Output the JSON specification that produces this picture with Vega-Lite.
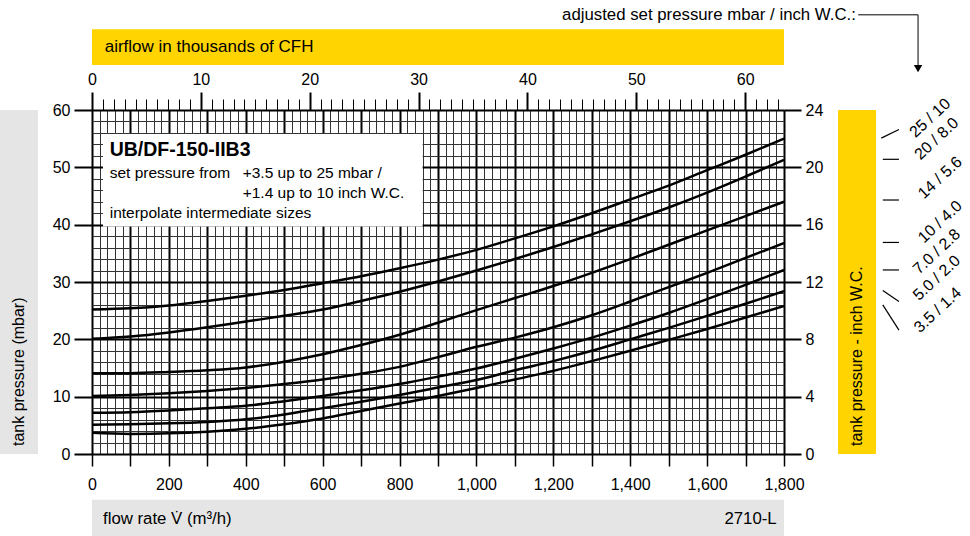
{
"$schema": "https://vega.github.io/schema/vega-lite/v6.json",
"width": 692, "height": 344,
"autosize": "none",
"padding": {"left": 92, "top": 110, "right": 186, "bottom": 82},
"background": "white",
"config": {"font": "Liberation Sans", "view": {"stroke": null},
  "axis": {"labelFont": "Liberation Sans", "labelFontSize": 16, "labelColor": "black", "tickColor": "black", "domain": false, "labelOverlap": false, "labelBound": false, "labelFlush": false}},
"datasets": {"curves": [
{"c":"25","f":0,"p":25.2},{"c":"25","f":100,"p":25.4},{"c":"25","f":200,"p":25.9},{"c":"25","f":300,"p":26.7},{"c":"25","f":400,"p":27.6},{"c":"25","f":500,"p":28.6},{"c":"25","f":600,"p":29.8},{"c":"25","f":700,"p":31.0},{"c":"25","f":800,"p":32.4},{"c":"25","f":900,"p":33.9},{"c":"25","f":1000,"p":35.6},{"c":"25","f":1100,"p":37.6},{"c":"25","f":1200,"p":39.7},{"c":"25","f":1300,"p":42.0},{"c":"25","f":1400,"p":44.4},{"c":"25","f":1500,"p":46.8},{"c":"25","f":1600,"p":49.5},{"c":"25","f":1700,"p":52.2},{"c":"25","f":1800,"p":55.0},
{"c":"20","f":0,"p":20.1},{"c":"20","f":100,"p":20.5},{"c":"20","f":200,"p":21.2},{"c":"20","f":300,"p":22.1},{"c":"20","f":400,"p":23.1},{"c":"20","f":500,"p":24.1},{"c":"20","f":600,"p":25.2},{"c":"20","f":700,"p":26.7},{"c":"20","f":800,"p":28.3},{"c":"20","f":900,"p":30.1},{"c":"20","f":1000,"p":32.0},{"c":"20","f":1100,"p":34.0},{"c":"20","f":1200,"p":36.1},{"c":"20","f":1300,"p":38.3},{"c":"20","f":1400,"p":40.6},{"c":"20","f":1500,"p":43.0},{"c":"20","f":1600,"p":45.6},{"c":"20","f":1700,"p":48.4},{"c":"20","f":1800,"p":51.3},
{"c":"14","f":0,"p":14.1},{"c":"14","f":100,"p":14.1},{"c":"14","f":200,"p":14.3},{"c":"14","f":300,"p":14.6},{"c":"14","f":400,"p":15.1},{"c":"14","f":500,"p":16.1},{"c":"14","f":600,"p":17.4},{"c":"14","f":700,"p":19.0},{"c":"14","f":800,"p":20.8},{"c":"14","f":900,"p":22.9},{"c":"14","f":1000,"p":25.1},{"c":"14","f":1100,"p":27.2},{"c":"14","f":1200,"p":29.3},{"c":"14","f":1300,"p":31.6},{"c":"14","f":1400,"p":34.0},{"c":"14","f":1500,"p":36.5},{"c":"14","f":1600,"p":39.0},{"c":"14","f":1700,"p":41.5},{"c":"14","f":1800,"p":44.0},
{"c":"10","f":0,"p":10.1},{"c":"10","f":100,"p":10.3},{"c":"10","f":200,"p":10.6},{"c":"10","f":300,"p":11.0},{"c":"10","f":400,"p":11.5},{"c":"10","f":500,"p":12.2},{"c":"10","f":600,"p":13.0},{"c":"10","f":700,"p":14.0},{"c":"10","f":800,"p":15.2},{"c":"10","f":900,"p":16.9},{"c":"10","f":1000,"p":18.7},{"c":"10","f":1100,"p":20.3},{"c":"10","f":1200,"p":22.1},{"c":"10","f":1300,"p":24.2},{"c":"10","f":1400,"p":26.6},{"c":"10","f":1500,"p":29.1},{"c":"10","f":1600,"p":31.6},{"c":"10","f":1700,"p":34.2},{"c":"10","f":1800,"p":36.8},
{"c":"7","f":0,"p":7.2},{"c":"7","f":100,"p":7.3},{"c":"7","f":200,"p":7.6},{"c":"7","f":300,"p":8.0},{"c":"7","f":400,"p":8.4},{"c":"7","f":500,"p":9.2},{"c":"7","f":600,"p":10.1},{"c":"7","f":700,"p":11.1},{"c":"7","f":800,"p":12.2},{"c":"7","f":900,"p":13.5},{"c":"7","f":1000,"p":14.9},{"c":"7","f":1100,"p":16.6},{"c":"7","f":1200,"p":18.4},{"c":"7","f":1300,"p":20.3},{"c":"7","f":1400,"p":22.4},{"c":"7","f":1500,"p":24.6},{"c":"7","f":1600,"p":27.0},{"c":"7","f":1700,"p":29.5},{"c":"7","f":1800,"p":32.1},
{"c":"5","f":0,"p":5.1},{"c":"5","f":100,"p":5.2},{"c":"5","f":200,"p":5.35},{"c":"5","f":300,"p":5.6},{"c":"5","f":400,"p":6.05},{"c":"5","f":500,"p":6.9},{"c":"5","f":600,"p":8.0},{"c":"5","f":700,"p":9.1},{"c":"5","f":800,"p":10.3},{"c":"5","f":900,"p":11.6},{"c":"5","f":1000,"p":12.9},{"c":"5","f":1100,"p":14.6},{"c":"5","f":1200,"p":16.2},{"c":"5","f":1300,"p":18.0},{"c":"5","f":1400,"p":20.0},{"c":"5","f":1500,"p":22.0},{"c":"5","f":1600,"p":24.1},{"c":"5","f":1700,"p":26.2},{"c":"5","f":1800,"p":28.4},
{"c":"3.5","f":0,"p":3.7},{"c":"3.5","f":100,"p":3.5},{"c":"3.5","f":200,"p":3.6},{"c":"3.5","f":300,"p":3.9},{"c":"3.5","f":400,"p":4.4},{"c":"3.5","f":500,"p":5.2},{"c":"3.5","f":600,"p":6.2},{"c":"3.5","f":700,"p":7.5},{"c":"3.5","f":800,"p":8.8},{"c":"3.5","f":900,"p":10.1},{"c":"3.5","f":1000,"p":11.5},{"c":"3.5","f":1100,"p":13.0},{"c":"3.5","f":1200,"p":14.5},{"c":"3.5","f":1300,"p":16.2},{"c":"3.5","f":1400,"p":18.0},{"c":"3.5","f":1500,"p":19.9},{"c":"3.5","f":1600,"p":21.8},{"c":"3.5","f":1700,"p":23.8},{"c":"3.5","f":1800,"p":25.8}
]},
"layer": [
{"data": {"values": [{}]},
 "resolve": {"axis": {"x": "independent", "y": "independent"}},
 "layer": [
  {"data": {"name": "curves"},
   "mark": {"type": "line", "color": "black", "strokeWidth": 2.5, "interpolate": "monotone"},
   "encoding": {
     "x": {"field": "f", "type": "quantitative", "title": null,
       "scale": {"domain": [0, 1800], "nice": false, "zero": false},
       "axis": {"orient": "bottom", "values": [0,20,40,60,80,100,120,140,160,180,200,220,240,260,280,300,320,340,360,380,400,420,440,460,480,500,520,540,560,580,600,620,640,660,680,700,720,740,760,780,800,820,840,860,880,900,920,940,960,980,1000,1020,1040,1060,1080,1100,1120,1140,1160,1180,1200,1220,1240,1260,1280,1300,1320,1340,1360,1380,1400,1420,1440,1460,1480,1500,1520,1540,1560,1580,1600,1620,1640,1660,1680,1700,1720,1740,1760,1780,1800],
         "format": ",d",
         "labelExpr": "datum.value % 200 === 0 ? datum.label : ''",
         "grid": true,
         "gridColor": {"condition": {"test": "datum.value % 100 === 0", "value": "black"}, "value": "#333333"},
         "gridWidth": {"condition": {"test": "datum.value % 100 === 0", "value": 2}, "value": 1},
         "tickOpacity": {"condition": {"test": "datum.value % 100 === 0", "value": 1}, "value": 0},
         "tickSize": 12, "tickWidth": 1.5, "labelPadding": 10}},
     "y": {"field": "p", "type": "quantitative", "title": null,
       "scale": {"domain": [0, 60], "nice": false, "zero": false},
       "axis": {"orient": "left", "values": [0,2,4,6,8,10,12,14,16,18,20,22,24,26,28,30,32,34,36,38,40,42,44,46,48,50,52,54,56,58,60],
         "labelExpr": "datum.value % 10 === 0 ? datum.label : ''",
         "grid": true,
         "gridColor": {"condition": {"test": "datum.value % 10 === 0", "value": "black"}, "value": "#333333"},
         "gridWidth": {"condition": {"test": "datum.value % 10 === 0", "value": 2}, "value": 1},
         "tickOpacity": {"condition": {"test": "datum.value % 10 === 0", "value": 1}, "value": 0},
         "tickSize": 18, "tickWidth": 2, "labelPadding": 4}},
     "detail": {"field": "c"}
   }},
  {"mark": {"type": "rect", "color": "white"},
   "encoding": {"x": {"datum": 28.6, "type": "quantitative", "axis": null}, "x2": {"datum": 860}, "y": {"datum": 55.8, "type": "quantitative", "axis": null}, "y2": {"datum": 39.7}}},
  {"mark": {"type": "text", "text": "UB/DF-150-IIB3", "fontWeight": "bold", "fontSize": 19.5, "align": "left", "baseline": "middle", "color": "black"},
   "encoding": {"x": {"datum": 46, "type": "quantitative", "axis": null}, "y": {"datum": 52.95, "type": "quantitative", "axis": null}}},
  {"mark": {"type": "text", "text": "set pressure from", "fontSize": 15.5, "align": "left", "baseline": "middle", "color": "black"},
   "encoding": {"x": {"datum": 46, "type": "quantitative", "axis": null}, "y": {"datum": 49.05, "type": "quantitative", "axis": null}}},
  {"mark": {"type": "text", "text": "+3.5 up to 25 mbar /", "fontSize": 15.5, "align": "left", "baseline": "middle", "color": "black"},
   "encoding": {"x": {"datum": 392, "type": "quantitative", "axis": null}, "y": {"datum": 49.05, "type": "quantitative", "axis": null}}},
  {"mark": {"type": "text", "text": "+1.4 up to 10 inch W.C.", "fontSize": 15.5, "align": "left", "baseline": "middle", "color": "black"},
   "encoding": {"x": {"datum": 392, "type": "quantitative", "axis": null}, "y": {"datum": 45.5, "type": "quantitative", "axis": null}}},
  {"mark": {"type": "text", "text": "interpolate intermediate sizes", "fontSize": 15.5, "align": "left", "baseline": "middle", "color": "black"},
   "encoding": {"x": {"datum": 46, "type": "quantitative", "axis": null}, "y": {"datum": 41.95, "type": "quantitative", "axis": null}}},
  {"mark": {"type": "rect", "color": "#FFD400"},
   "encoding": {"x": {"datum": 0, "type": "quantitative", "axis": null}, "x2": {"datum": 1800}, "y": {"datum": 74.1, "type": "quantitative", "axis": null}, "y2": {"datum": 67.85}}},
  {"mark": {"type": "text", "text": "airflow in thousands of CFH", "fontSize": 17, "align": "left", "baseline": "middle", "color": "black"},
   "encoding": {"x": {"datum": 33, "type": "quantitative", "axis": null}, "y": {"datum": 70.95, "type": "quantitative", "axis": null}}},
  {"mark": {"type": "rect", "color": "#E5E5E5"},
   "encoding": {"x": {"datum": 0, "type": "quantitative", "axis": null}, "x2": {"datum": 1800}, "y": {"datum": -8.0, "type": "quantitative", "axis": null}, "y2": {"datum": -14.4}}},
  {"mark": {"type": "text", "text": "flow rate V̇ (m³/h)", "fontSize": 16.8, "align": "left", "baseline": "middle", "color": "black"},
   "encoding": {"x": {"datum": 28.6, "type": "quantitative", "axis": null}, "y": {"datum": -11.4, "type": "quantitative", "axis": null}}},
  {"mark": {"type": "text", "text": "2710-L", "fontSize": 16.8, "align": "right", "baseline": "middle", "color": "black"},
   "encoding": {"x": {"datum": 1781, "type": "quantitative", "axis": null}, "y": {"datum": -11.4, "type": "quantitative", "axis": null}}},
  {"mark": {"type": "rect", "color": "#E5E5E5"},
   "encoding": {"x": {"datum": -239.3, "type": "quantitative", "axis": null}, "x2": {"datum": -140.5}, "y": {"datum": 0, "type": "quantitative", "axis": null}, "y2": {"datum": 60}}},
  {"mark": {"type": "text", "text": "tank pressure (mbar)", "fontSize": 16, "angle": -90, "align": "left", "baseline": "middle", "color": "black"},
   "encoding": {"x": {"datum": -190, "type": "quantitative", "axis": null}, "y": {"datum": 1.4, "type": "quantitative", "axis": null}}},
  {"mark": {"type": "rect", "color": "#FFD400"},
   "encoding": {"x": {"datum": 1940.5, "type": "quantitative", "axis": null}, "x2": {"datum": 2039.4}, "y": {"datum": 0, "type": "quantitative", "axis": null}, "y2": {"datum": 60}}},
  {"mark": {"type": "text", "text": "tank pressure - inch W.C.", "fontSize": 16, "angle": -90, "align": "left", "baseline": "middle", "color": "black"},
   "encoding": {"x": {"datum": 1990, "type": "quantitative", "axis": null}, "y": {"datum": 1.4, "type": "quantitative", "axis": null}}},
  {"mark": {"type": "text", "text": "adjusted set pressure mbar / inch W.C.:", "fontSize": 16.8, "align": "right", "baseline": "middle", "color": "black"},
   "encoding": {"x": {"datum": 1987, "type": "quantitative", "axis": null}, "y": {"datum": 76.6, "type": "quantitative", "axis": null}}},
  {"mark": {"type": "rule", "color": "black", "strokeWidth": 1},
   "encoding": {"x": {"datum": 1993, "type": "quantitative", "axis": null}, "x2": {"datum": 2148.7}, "y": {"datum": 76.6, "type": "quantitative", "axis": null}}},
  {"mark": {"type": "rule", "color": "black", "strokeWidth": 1},
   "encoding": {"x": {"datum": 2148.7, "type": "quantitative", "axis": null}, "y": {"datum": 76.6, "type": "quantitative", "axis": null}, "y2": {"datum": 67.5}}},
  {"mark": {"type": "point", "shape": "triangle-down", "filled": true, "color": "black", "size": 70, "opacity": 1},
   "encoding": {"x": {"datum": 2148.7, "type": "quantitative", "axis": null}, "y": {"datum": 67.2, "type": "quantitative", "axis": null}}},
  {"mark": {"type": "rule", "color": "black", "strokeWidth": 1.2},
   "encoding": {"x": {"datum": 2053, "type": "quantitative", "axis": null}, "x2": {"datum": 2099}, "y": {"datum": 55.1, "type": "quantitative", "axis": null}, "y2": {"datum": 56.6}}},
  {"mark": {"type": "rule", "color": "black", "strokeWidth": 1.2},
   "encoding": {"x": {"datum": 2057, "type": "quantitative", "axis": null}, "x2": {"datum": 2099}, "y": {"datum": 51.4, "type": "quantitative", "axis": null}, "y2": {"datum": 51.4}}},
  {"mark": {"type": "rule", "color": "black", "strokeWidth": 1.2},
   "encoding": {"x": {"datum": 2057, "type": "quantitative", "axis": null}, "x2": {"datum": 2099}, "y": {"datum": 44.3, "type": "quantitative", "axis": null}, "y2": {"datum": 44.3}}},
  {"mark": {"type": "rule", "color": "black", "strokeWidth": 1.2},
   "encoding": {"x": {"datum": 2057, "type": "quantitative", "axis": null}, "x2": {"datum": 2099}, "y": {"datum": 36.9, "type": "quantitative", "axis": null}, "y2": {"datum": 36.9}}},
  {"mark": {"type": "rule", "color": "black", "strokeWidth": 1.2},
   "encoding": {"x": {"datum": 2057, "type": "quantitative", "axis": null}, "x2": {"datum": 2099}, "y": {"datum": 32.1, "type": "quantitative", "axis": null}, "y2": {"datum": 32.1}}},
  {"mark": {"type": "rule", "color": "black", "strokeWidth": 1.2},
   "encoding": {"x": {"datum": 2057, "type": "quantitative", "axis": null}, "x2": {"datum": 2099}, "y": {"datum": 28.5, "type": "quantitative", "axis": null}, "y2": {"datum": 26.6}}},
  {"mark": {"type": "rule", "color": "black", "strokeWidth": 1.2},
   "encoding": {"x": {"datum": 2057, "type": "quantitative", "axis": null}, "x2": {"datum": 2099}, "y": {"datum": 26.0, "type": "quantitative", "axis": null}, "y2": {"datum": 21.6}}},
  {"mark": {"type": "text", "text": "25 / 10", "fontSize": 16, "angle": -43, "align": "center", "baseline": "middle", "color": "black"},
   "encoding": {"x": {"datum": 2180, "type": "quantitative", "axis": null}, "y": {"datum": 58.6, "type": "quantitative", "axis": null}}},
  {"mark": {"type": "text", "text": "20 / 8.0", "fontSize": 16, "angle": -43, "align": "center", "baseline": "middle", "color": "black"},
   "encoding": {"x": {"datum": 2197, "type": "quantitative", "axis": null}, "y": {"datum": 55.0, "type": "quantitative", "axis": null}}},
  {"mark": {"type": "text", "text": "14 / 5.6", "fontSize": 16, "angle": -43, "align": "center", "baseline": "middle", "color": "black"},
   "encoding": {"x": {"datum": 2206, "type": "quantitative", "axis": null}, "y": {"datum": 48.2, "type": "quantitative", "axis": null}}},
  {"mark": {"type": "text", "text": "10 / 4.0", "fontSize": 16, "angle": -43, "align": "center", "baseline": "middle", "color": "black"},
   "encoding": {"x": {"datum": 2206, "type": "quantitative", "axis": null}, "y": {"datum": 40.5, "type": "quantitative", "axis": null}}},
  {"mark": {"type": "text", "text": "7.0 / 2.8", "fontSize": 16, "angle": -43, "align": "center", "baseline": "middle", "color": "black"},
   "encoding": {"x": {"datum": 2197, "type": "quantitative", "axis": null}, "y": {"datum": 35.3, "type": "quantitative", "axis": null}}},
  {"mark": {"type": "text", "text": "5.0 / 2.0", "fontSize": 16, "angle": -43, "align": "center", "baseline": "middle", "color": "black"},
   "encoding": {"x": {"datum": 2197, "type": "quantitative", "axis": null}, "y": {"datum": 30.7, "type": "quantitative", "axis": null}}},
  {"mark": {"type": "text", "text": "3.5 / 1.4", "fontSize": 16, "angle": -43, "align": "center", "baseline": "middle", "color": "black"},
   "encoding": {"x": {"datum": 2200, "type": "quantitative", "axis": null}, "y": {"datum": 25.1, "type": "quantitative", "axis": null}}}
]},
{"data": {"values": [{"cfh": 0, "inch": 0}]},
 "mark": {"type": "point", "opacity": 0},
 "encoding": {
   "x": {"field": "cfh", "type": "quantitative", "title": null,
     "scale": {"domain": [0, 63.566], "nice": false, "zero": false},
     "axis": {"orient": "top", "values": [0,1,2,3,4,5,6,7,8,9,10,11,12,13,14,15,16,17,18,19,20,21,22,23,24,25,26,27,28,29,30,31,32,33,34,35,36,37,38,39,40,41,42,43,44,45,46,47,48,49,50,51,52,53,54,55,56,57,58,59,60,61,62,63],
       "labelExpr": "datum.value % 10 === 0 ? datum.label : ''",
       "grid": false,
       "tickSize": {"condition": {"test": "datum.value % 10 === 0", "value": 18}, "value": 11},
       "tickWidth": {"condition": {"test": "datum.value % 10 === 0", "value": 2}, "value": 1},
       "labelPadding": 5}},
   "y": {"field": "inch", "type": "quantitative", "title": null,
     "scale": {"domain": [0, 24], "nice": false, "zero": false},
     "axis": {"orient": "right", "values": [0,4,8,12,16,20,24], "grid": false, "tickSize": 17, "tickWidth": 2, "labelPadding": 4}}
 }}
],
"resolve": {"scale": {"x": "independent", "y": "independent"}}
}
